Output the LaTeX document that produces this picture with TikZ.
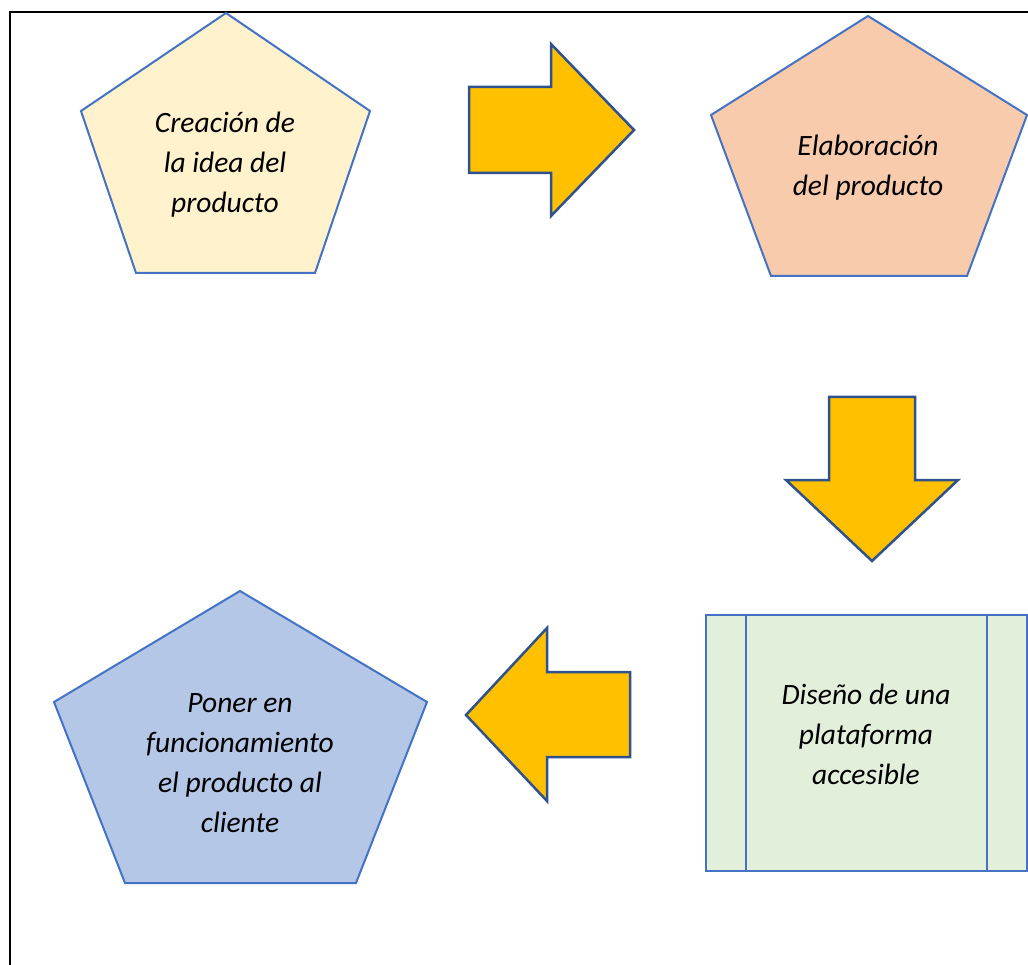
\documentclass[tikz,border=0pt]{standalone}
\usepackage{fontspec}
\setmainfont{Carlito}
\usepackage{xcolor}
\definecolor{borde}{RGB}{68,114,196}
\definecolor{bordeflecha}{RGB}{47,82,143}
\definecolor{amarillo}{RGB}{255,242,204}
\definecolor{salmon}{RGB}{248,203,173}
\definecolor{celeste}{RGB}{180,199,231}
\definecolor{verde}{RGB}{226,239,218}
\definecolor{naranja}{RGB}{255,192,0}
\usepackage{tikz}
\usetikzlibrary{positioning}

\begin{document}
\begin{tikzpicture}[
    x=1pt, y=-1pt,
    forma/.style={draw=borde, line width=2pt, line join=miter},
    flecha/.style={draw=bordeflecha, fill=naranja, line width=2.5pt, line join=miter},
    texto/.style={align=center, inner sep=0pt,
                  font=\fontsize{29.5}{40}\selectfont\itshape},
    marco/.style={black, line width=2.5pt}
  ]
  \useasboundingbox (0,0) rectangle (1028,965);
  % Marco
  \draw[marco] (10,965) -- (10,12) -- (1028,12);

  % Paso 1 (arriba izquierda)
  \draw[forma, fill=amarillo] (226,13) -- (370,111) -- (315,273) -- (136,273) -- (81,111) -- cycle;
  \node[texto] (idea) at (225,165) {Creación de\\la idea del\\producto};

  % Paso 2 (arriba derecha)
  \draw[forma, fill=salmon] (868,16) -- (1027,115) -- (967,276) -- (771,276) -- (711,115) -- cycle;
  \node[texto] (elab) at (868,168) {Elaboración\\del producto};

  % Paso 3 (abajo derecha)
  \draw[forma, fill=verde] (706,615) rectangle (1027,871);
  \draw[forma] (746,615) -- (746,871);
  \draw[forma] (987,615) -- (987,871);
  \node[texto] (disenio) at (866,734) {Diseño de una\\plataforma\\accesible};

  % Paso 4 (abajo izquierda)
  \draw[forma, fill=celeste] (240,591) -- (427,702) -- (356,883) -- (125,883) -- (54,702) -- cycle;
  \node[texto] (cliente) at (240,763) {Poner en\\funcionamiento\\el producto al\\cliente};

  % Flechas de bloque
  \draw[flecha] (469,87) -- (551,87) -- (551,44) -- (634,130) -- (551,216) -- (551,173) -- (469,173) -- cycle;
  \draw[flecha] (829,397) -- (915,397) -- (915,480) -- (958,480) -- (872,561) -- (786,480) -- (829,480) -- cycle;
  \draw[flecha] (630,672) -- (547,672) -- (547,628) -- (466,715) -- (547,801) -- (547,757) -- (630,757) -- cycle;
\end{tikzpicture}
\end{document}
